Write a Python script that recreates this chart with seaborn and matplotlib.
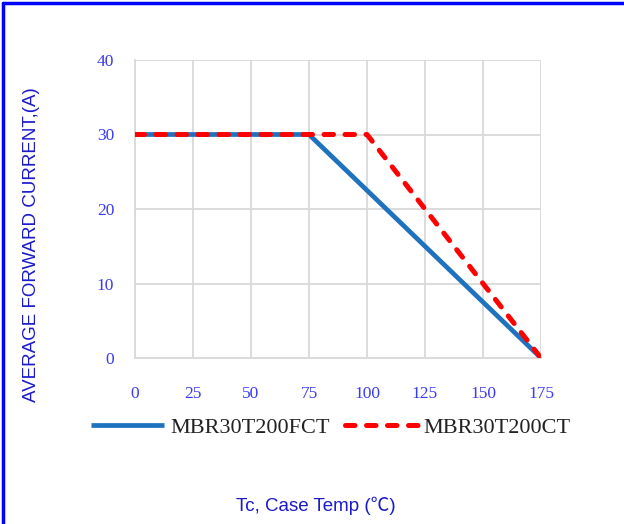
import matplotlib
matplotlib.use("Agg")
import matplotlib.pyplot as plt
import seaborn as sns
import pandas as pd
from matplotlib.lines import Line2D

temps_fct = [0, 75, 175]
current_fct = [30, 30, 0]
temps_ct = [0, 100, 175]
current_ct = [30, 30, 0]
series_names = ["MBR30T200FCT", "MBR30T200CT"]
x_ticks = [0, 25, 50, 75, 100, 125, 150, 175]
y_ticks = [0, 10, 20, 30, 40]

sns.set_theme(style="white")

df_fct = pd.DataFrame({"t": temps_fct, "i": current_fct})
df_ct = pd.DataFrame({"t": temps_ct, "i": current_ct})

fig = plt.figure(figsize=(6.24, 5.24), dpi=100)
ax = fig.add_axes([135/624, 1-358/524, (541-135)/624, (358-60)/524])

sns.lineplot(data=df_fct, x="t", y="i", ax=ax, color="#1f72bd", linewidth=3.4,
             label=series_names[0], solid_capstyle="butt", zorder=3)
sns.lineplot(data=df_ct, x="t", y="i", ax=ax, color="#ff0000", linewidth=3.6,
             label=series_names[1], zorder=4)
ln = ax.get_lines()[1]
ln.set_dashes((1.9, 2.3))
ln.set_dash_capstyle("round")

ax.set_xlim(0, 175)
ax.set_ylim(0, 40)
ax.set_xticks(x_ticks)
ax.set_yticks(y_ticks)
ax.set_xticklabels([str(v) for v in x_ticks])
ax.set_yticklabels([str(v) for v in y_ticks])
ax.grid(True, color="#d9d9d9", linewidth=1.3)
ax.set_axisbelow(True)
for s in ["top", "right"]:
    ax.spines[s].set_visible(False)
for s in ["left", "bottom"]:
    ax.spines[s].set_color("#d9d9d9")
    ax.spines[s].set_linewidth(1.3)
ax.tick_params(axis="x", length=0, pad=20, labelcolor="#3a3af5", labelsize=12.5)
ax.tick_params(axis="y", length=0, pad=15, labelcolor="#3a3af5", labelsize=12.5)
for lab in ax.get_xticklabels() + ax.get_yticklabels():
    lab.set_family("Liberation Serif")

ax.set_xlabel("")
ax.set_ylabel("")
fig.text(32/624, 1-245/524, "AVERAGE FORWARD CURRENT,(A)", rotation=90,
         ha="center", va="center", color="#1a1acc", fontsize=13.5,
         family=["Liberation Sans", "Noto Sans CJK SC"])
fig.text(316/624, 1-506/524, "Tc, Case Temp (℃)", ha="center", va="center",
         color="#1a1acc", fontsize=13.5,
         family=["Liberation Sans", "Noto Sans CJK SC"])

leg = ax.legend(loc="center", bbox_to_anchor=((331-135)/406, 1-(428-60)/298), ncol=2,
                frameon=False, handlelength=3.3, columnspacing=0.7,
                handletextpad=0.25,
                prop={"family": "Liberation Serif", "size": 16})
for t in leg.get_texts():
    t.set_color("#222222")

fig.add_artist(Line2D([3/624, 3/624], [0, 1-3/524], color="#0000ff", linewidth=2.5))
fig.add_artist(Line2D([3/624, 1], [1-3/524, 1-3/524], color="#0000ff", linewidth=2.5))

fig.savefig("out.png", dpi=100, facecolor="white")
